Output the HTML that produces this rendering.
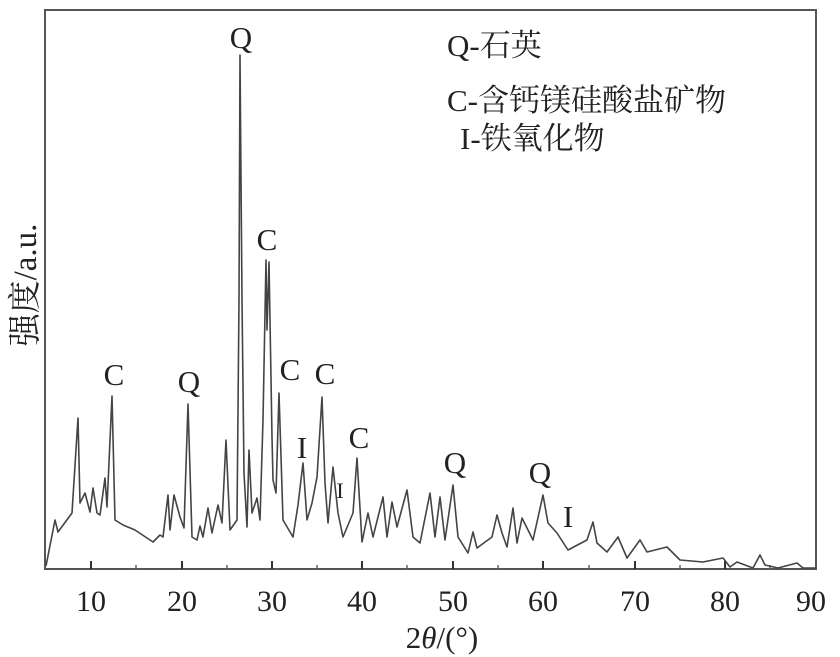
<!DOCTYPE html><html><head><meta charset="utf-8"><style>body{margin:0;background:#fff}svg{display:block}text{font-family:"Liberation Serif","Noto Serif CJK SC",serif;fill:#222}</style></head><body>
<svg width="840" height="657" viewBox="0 0 840 657">
<rect x="45" y="10" width="771" height="559" fill="none" stroke="#555" stroke-width="2"/>
<g stroke="#333" stroke-width="2">
<line x1="91" y1="569" x2="91" y2="561"/><line x1="182" y1="569" x2="182" y2="561"/><line x1="272" y1="569" x2="272" y2="561"/><line x1="362" y1="569" x2="362" y2="561"/><line x1="453" y1="569" x2="453" y2="561"/><line x1="543" y1="569" x2="543" y2="561"/><line x1="635" y1="569" x2="635" y2="561"/><line x1="725" y1="569" x2="725" y2="561"/>
</g>
<g stroke="#666" stroke-width="1.5">
<line x1="136" y1="569" x2="136" y2="565"/><line x1="227" y1="569" x2="227" y2="565"/><line x1="317" y1="569" x2="317" y2="565"/><line x1="407" y1="569" x2="407" y2="565"/><line x1="498" y1="569" x2="498" y2="565"/><line x1="589" y1="569" x2="589" y2="565"/><line x1="680" y1="569" x2="680" y2="565"/><line x1="770" y1="569" x2="770" y2="565"/>
</g>
<polyline fill="none" stroke="#444" stroke-width="1.6" stroke-linejoin="round" points="46,566 55,520 58,532 72,513 78,418 80,503 85,493 90,512 93,488 97,513 100,515 105,478 107,507 112,396 115,520 123,525 135,530 153,542 160,535 163,537 168,495 170,530 174,495 180,517 184,528 188,404 192,537 197,540 200,526 203,537 208,508 212,533 218,505 222,523 226,440 230,530 237,520 239,300 240,55 242,300 244,473 247,527 249,450 252,513 257,498 260,520 263,420 266,260 267,330 269,262 272,437 273,480 276,493 279,393 283,520 293,537 298,505 303,463 307,520 312,503 317,477 322,397 325,483 328,523 333,467 338,513 343,537 353,513 357,458 362,542 368,513 373,537 383,497 387,537 392,502 397,527 407,490 413,537 420,543 430,493 435,537 440,497 445,540 453,485 458,537 468,553 473,532 477,548 492,537 497,515 502,533 507,547 513,508 517,543 522,518 533,540 543,495 548,523 557,533 568,550 587,540 593,522 597,543 607,552 618,537 627,558 640,540 647,552 667,547 680,560 703,562 723,558 730,567 737,562 753,568 760,555 765,565 778,568 797,563 803,568 816,568"/>
<g font-size="31" text-anchor="middle">
<text x="241" y="48">Q</text><text x="267" y="250">C</text><text x="114" y="385">C</text><text x="189" y="392">Q</text><text x="290" y="380">C</text><text x="325" y="384">C</text><text x="302" y="458">I</text><text x="359" y="448">C</text><text x="455" y="473">Q</text><text x="540" y="483">Q</text><text x="568" y="527">I</text>
<text x="340" y="498" font-size="22">I</text>
</g>
<g font-size="31">
<text x="447" y="56">Q-石英</text>
<text x="447" y="111">C-含钙镁硅酸盐矿物</text>
<text x="460" y="149">I-铁氧化物</text>
</g>
<g font-size="30" text-anchor="middle">
<text x="91" y="611">10</text><text x="182" y="611">20</text><text x="272" y="611">30</text><text x="362" y="611">40</text><text x="453" y="611">50</text><text x="543" y="611">60</text><text x="635" y="611">70</text><text x="725" y="611">80</text><text x="811" y="611">90</text>
<text x="442" y="648" font-size="31">2<tspan font-style="italic">θ</tspan>/(°)</text>
</g>
<text font-size="33" text-anchor="middle" transform="translate(36,285) rotate(-90)">强度/a.u.</text>
</svg></body></html>
